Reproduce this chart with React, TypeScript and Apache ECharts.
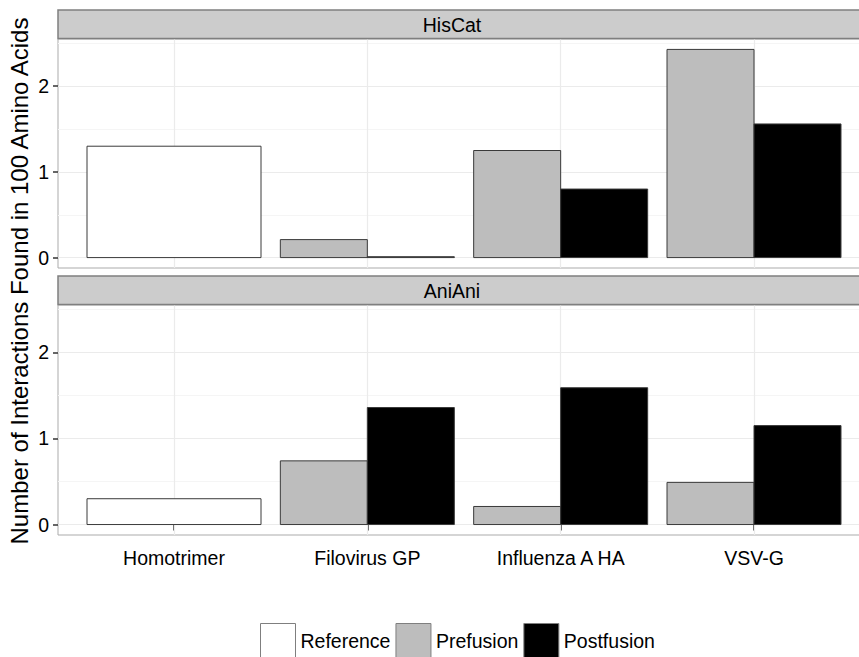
import React, { useEffect, useRef } from 'react';
import * as echarts from 'echarts';

const categories = ['Homotrimer', 'Filovirus GP', 'Influenza A HA', 'VSV-G'];
const panels = ['HisCat', 'AniAni'];
const legendNames = ['Reference', 'Prefusion', 'Postfusion'];
const hisCatReference = [1.3, null, null, null];
const hisCatPrefusion = [null, 0.21, 1.25, 2.43];
const hisCatPostfusion = [null, 0.01, 0.8, 1.56];
const aniAniReference = [0.3, null, null, null];
const aniAniPrefusion = [null, 0.74, 0.21, 0.49];
const aniAniPostfusion = [null, 1.36, 1.59, 1.15];
const yTicks = [0, 1, 2];
const yMinorTicks = [0.5, 1.5, 2.5];
const yTitle = 'Number of Interactions Found in 100 Amino Acids';

const FONT = '"Liberation Sans", Arial, Helvetica, sans-serif';
const fills = ['#ffffff', '#bdbdbd', '#000000'];
const slots: [number, number][] = [[-0.45, 0.45], [-0.45, 0], [0, 0.45]];

export default function App() {
  const ref = useRef<HTMLDivElement>(null);
  useEffect(() => {
    if (!ref.current) return;
    const chart = echarts.init(ref.current, undefined, { renderer: 'svg' });
    const panelData = [
      [hisCatReference, hisCatPrefusion, hisCatPostfusion],
      [aniAniReference, aniAniPrefusion, aniAniPostfusion],
    ];
    const allVals = panelData.flat(2).filter((v) => v != null) as number[];
    const dMax = Math.max(...allVals);
    const dMin = Math.min(0, ...allVals);
    const span = dMax - dMin;
    const yMin = dMin - span * 0.05;
    const yMax = dMax + span * 0.05;
    const xPos = categories.map((_, i) => i + 1);
    const xMin = 1 - 0.6;
    const xMax = categories.length + 0.6;

    const gridTops = [39, 305];
    const gridHeights = [229, 230];
    const stripTops = [10, 276];
    const panelLeft = 58;
    const panelWidth = 812;

    const grids = gridTops.map((t, i) => ({
      left: panelLeft,
      top: t,
      width: panelWidth,
      height: gridHeights[i],
      show: true,
      borderColor: '#ababab',
      borderWidth: 1,
      backgroundColor: '#ffffff',
    }));

    const xAxes = gridTops.map((_, i) => ({
      type: 'value',
      gridIndex: i,
      min: xMin,
      max: xMax,
      axisLine: { show: false },
      splitLine: { show: false },
      axisTick: {
        show: i === 1,
        customValues: xPos,
        length: 6,
        lineStyle: { color: '#333333', width: 1.5 },
      },
      axisLabel: {
        show: i === 1,
        customValues: xPos,
        margin: 13,
        fontSize: 19.5,
        fontFamily: FONT,
        color: '#000000',
        formatter: (v: number) => categories[Math.round(v) - 1] ?? '',
      },
    }));

    const yAxes = gridTops.map((_, i) => ({
      type: 'value',
      gridIndex: i,
      min: yMin,
      max: yMax,
      axisLine: { show: false },
      splitLine: { show: false },
      axisTick: {
        show: true,
        customValues: yTicks,
        length: 5,
        lineStyle: { color: '#333333', width: 1.5 },
      },
      axisLabel: {
        customValues: yTicks,
        margin: 9,
        fontSize: 19.5,
        fontFamily: FONT,
        color: '#000000',
      },
    }));

    const series: any[] = [];
    panelData.forEach((groups, gi) => {
      series.push({
        type: 'line',
        name: 'grid-' + gi,
        xAxisIndex: gi,
        yAxisIndex: gi,
        data: [],
        silent: true,
        markLine: {
          silent: true,
          symbol: 'none',
          z: 1,
          animation: false,
          label: { show: false },
          data: [
            ...yMinorTicks.map((v) => ({ yAxis: v, lineStyle: { color: '#f5f5f5', width: 1, type: 'solid' } })),
            ...yTicks.map((v) => ({ yAxis: v, lineStyle: { color: '#ebebeb', width: 1.2, type: 'solid' } })),
            ...xPos.map((v) => ({ xAxis: v, lineStyle: { color: '#ebebeb', width: 1.2, type: 'solid' } })),
          ],
        },
      });
      groups.forEach((vals, k) => {
        const data = vals
          .map((v, j) => (v == null ? null : [xPos[j], v, slots[k][0], slots[k][1]]))
          .filter((d) => d != null);
        series.push({
          type: 'custom',
          name: legendNames[k],
          xAxisIndex: gi,
          yAxisIndex: gi,
          z: 3,
          dimensions: ['x', 'y', 'a', 'b'],
          encode: { x: 'x', y: 'y' },
          itemStyle: { color: fills[k] },
          data,
          renderItem: (_params: any, api: any) => {
            const x = api.value(0) as number;
            const v = api.value(1) as number;
            const a = api.value(2) as number;
            const b = api.value(3) as number;
            const p0 = api.coord([x + a, v]);
            const p1 = api.coord([x + b, 0]);
            return {
              type: 'rect',
              shape: { x: p0[0], y: p0[1], width: p1[0] - p0[0], height: p1[1] - p0[1] },
              style: { fill: fills[k], stroke: '#3a3a3a', lineWidth: 1 },
            };
          },
        });
      });
    });

    const graphics: any[] = [];
    panels.forEach((p, i) => {
      graphics.push({
        type: 'rect',
        z: 10,
        shape: { x: panelLeft, y: stripTops[i], width: panelWidth, height: 28.5 },
        style: { fill: '#cccccc', stroke: '#7f7f7f', lineWidth: 1.5 },
      });
      graphics.push({
        type: 'text',
        z: 11,
        x: 452,
        y: stripTops[i] + 14.5,
        style: {
          text: p,
          font: `19.5px ${FONT}`,
          fill: '#000000',
          align: 'center',
          verticalAlign: 'middle',
          textAlign: 'center',
          textVerticalAlign: 'middle',
        },
      });
    });
    graphics.push({
      type: 'text',
      x: 19,
      y: 281,
      rotation: Math.PI / 2,
      style: {
        text: yTitle,
        font: `24px ${FONT}`,
        fill: '#000000',
        align: 'center',
        verticalAlign: 'middle',
        textAlign: 'center',
        textVerticalAlign: 'middle',
      },
    });

    chart.setOption({
      animation: false,
      backgroundColor: '#ffffff',
      grid: grids,
      xAxis: xAxes,
      yAxis: yAxes,
      legend: {
        left: 260,
        top: 623,
        padding: 0,
        itemWidth: 35,
        itemHeight: 35,
        itemGap: 5,
        icon: 'rect',
        selectedMode: false,
        textStyle: { fontSize: 19.5, fontFamily: FONT, color: '#000000' },
        data: legendNames.map((n, k) => ({
          name: n,
          icon: 'rect',
          itemStyle: { color: fills[k], borderColor: '#7f7f7f', borderWidth: 1 },
        })),
      },
      graphic: graphics,
      series,
    });
    return () => chart.dispose();
  }, []);
  return (
    <div style={{ position: 'fixed', left: 0, top: 0, width: 859, height: 657, overflow: 'hidden', background: '#fff' }}>
      <div ref={ref} style={{ width: 880, height: 657 }} />
    </div>
  );
}
